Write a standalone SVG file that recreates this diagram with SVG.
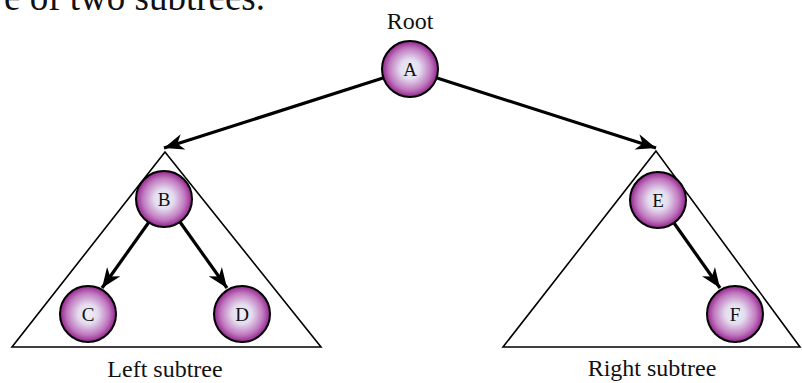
<svg xmlns="http://www.w3.org/2000/svg" width="802" height="383" viewBox="0 0 802 383">
<style>
.t{font-family:"Liberation Serif","Times New Roman",serif;fill:#111}
.lbl{font-size:24px;text-anchor:middle}
.nl{font-size:19px;text-anchor:middle}
.node{fill:url(#g);stroke:#000;stroke-width:2}
.tri{fill:none;stroke:#000;stroke-width:1.6;stroke-linejoin:miter}
.edge{stroke:#000;stroke-width:3.2;fill:none}
</style>
<defs>
<radialGradient id="g" cx="0.5" cy="0.5" r="0.5">
<stop offset="0" stop-color="#eef0f8"/>
<stop offset="0.35" stop-color="#e4dcef"/>
<stop offset="0.75" stop-color="#c079bf"/>
<stop offset="1" stop-color="#93238c"/>
</radialGradient>
<marker id="ah" markerUnits="userSpaceOnUse" markerWidth="22" markerHeight="16" viewBox="0 0 22 16" refX="20" refY="8" orient="auto">
<path d="M0,0 L20,8 L0,16 L6,8 z" fill="#000"/>
</marker>
</defs>
<text class="t" x="265" y="10" font-size="37" text-anchor="end">e of two subtrees.</text>
<g id="subtrees">
<polygon class="tri" points="165,152 12,347 321,347"/>
<polygon class="tri" points="656,151 503,347 800,347"/>
</g>
<g id="connectors">
<line class="edge" x1="383" y1="78" x2="164" y2="148" marker-end="url(#ah)"/>
<line class="edge" x1="437" y1="78" x2="656" y2="148" marker-end="url(#ah)"/>
<line class="edge" x1="149" y1="222" x2="102" y2="288" marker-end="url(#ah)"/>
<line class="edge" x1="180" y1="222" x2="227" y2="288" marker-end="url(#ah)"/>
<line class="edge" x1="674" y1="223" x2="720" y2="288" marker-end="url(#ah)"/>
</g>
<g id="A"><circle class="node" cx="410" cy="69" r="28"/><text class="t nl" x="410" y="76">A</text></g>
<g id="B"><circle class="node" cx="164" cy="199" r="28"/><text class="t nl" x="164" y="206">B</text></g>
<g id="C"><circle class="node" cx="88" cy="314" r="28"/><text class="t nl" x="88" y="321">C</text></g>
<g id="D"><circle class="node" cx="242" cy="314" r="28"/><text class="t nl" x="242" y="321">D</text></g>
<g id="E"><circle class="node" cx="658" cy="200" r="28"/><text class="t nl" x="658" y="207">E</text></g>
<g id="F"><circle class="node" cx="735" cy="314" r="28"/><text class="t nl" x="735" y="321">F</text></g>
<text class="t lbl" x="410" y="29">Root</text>
<text class="t lbl" x="165" y="377">Left subtree</text>
<text class="t lbl" x="652" y="376">Right subtree</text>
</svg>
